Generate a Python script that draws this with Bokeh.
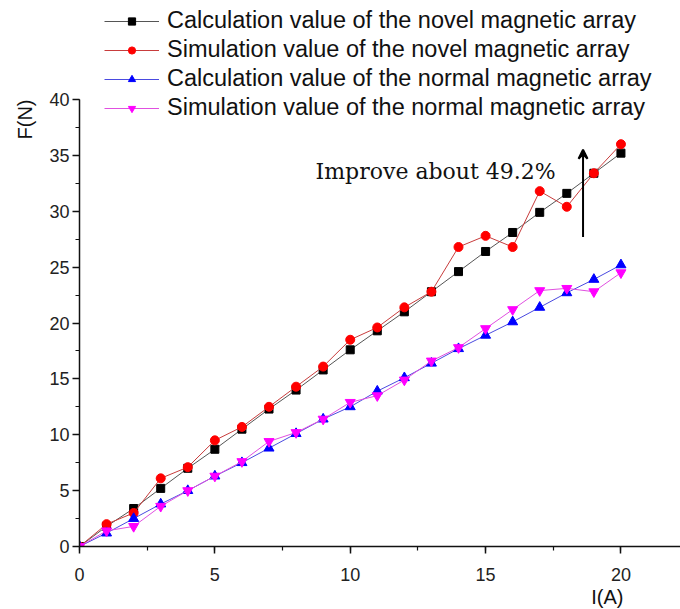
import math
from bokeh.plotting import figure
from bokeh.models import (Legend, LegendItem, Label, Arrow, VeeHead, Title,
                          SingleIntervalTicker, Range1d)
from bokeh.embed import file_html
from bokeh.resources import INLINE

# ---- data ----
current = [0, 1, 2, 3, 4, 5, 6, 7, 8, 9, 10, 11, 12, 13, 14, 15, 16, 17, 18, 19, 20]
calc_novel = [0, 1.8, 3.4, 5.2, 7.0, 8.7, 10.5, 12.3, 14.0, 15.8, 17.6, 19.3, 21.0,
              22.8, 24.6, 26.4, 28.1, 29.9, 31.6, 33.4, 35.2]
sim_novel = [0, 2.0, 3.0, 6.1, 7.1, 9.5, 10.7, 12.5, 14.3, 16.1, 18.5, 19.6, 21.4,
             22.8, 26.8, 27.8, 26.8, 31.8, 30.4, 33.4, 36.0]
calc_normal = [0, 1.2, 2.5, 3.8, 5.0, 6.3, 7.5, 8.8, 10.1, 11.4, 12.5, 13.9, 15.1,
               16.4, 17.7, 18.9, 20.1, 21.4, 22.7, 23.9, 25.2]
sim_normal = [0, 1.4, 1.8, 3.6, 5.0, 6.3, 7.6, 9.4, 10.2, 11.4, 12.9, 13.5, 14.9,
              16.6, 17.8, 19.5, 21.2, 22.9, 23.1, 22.8, 24.5]
series_names = ["Calculation value of the novel magnetic array",
                "Simulation value of the novel magnetic array",
                "Calculation value of the normal magnetic array",
                "Simulation value of the normal magnetic array"]
annotation_text = "Improve about 49.2%"
x_label = "I(A)"
y_label = "F(N)"
y_axis_max = 40

W, H = 680, 609
LEFT, BOTTOM = 79, 63
AXIS_TOP = 99          # canvas px of y = 40
FB = H - BOTTOM        # frame bottom in canvas px
px_per_unit = (FB - AXIS_TOP) / y_axis_max
y_end = y_axis_max + AXIS_TOP / px_per_unit

p = figure(width=W, height=H, output_backend="svg", toolbar_location=None,
           x_range=Range1d(0, 22.2), y_range=Range1d(0, y_end),
           min_border_left=LEFT, min_border_right=0, min_border_top=0,
           min_border_bottom=BOTTOM)
p.outline_line_color = None
p.xgrid.visible = False
p.ygrid.visible = False
p.background_fill_color = "white"
p.border_fill_color = "white"

for ax in (p.xaxis[0], p.yaxis[0]):
    ax.ticker = SingleIntervalTicker(interval=5, num_minor_ticks=2)
    ax.axis_line_width = 1.5
    ax.axis_line_color = "#111111"
    ax.major_tick_line_color = "#111111"
    ax.minor_tick_line_color = "#111111"
    ax.major_tick_line_width = 1.5
    ax.minor_tick_line_width = 1.2
    ax.major_tick_out = 7
    ax.major_tick_in = 0
    ax.minor_tick_out = 4
    ax.minor_tick_in = 0
    ax.major_label_text_font = "Liberation Sans"
    ax.major_label_text_font_size = "18px"
    ax.major_label_text_color = "#222222"
p.yaxis[0].bounds = (0, y_axis_max)
p.yaxis[0].major_label_standoff = 3
p.xaxis[0].major_label_standoff = 14

specs = [
    (calc_novel, "#000000", "#555555", "square", 8),
    (sim_novel, "#ff0000", "#c83c3c", "circle", 9),
    (calc_normal, "#0000ff", "#4a4ae0", "triangle", 10),
    (sim_normal, "#ff00ff", "#e050e0", "inverted_triangle", 10),
]
items = []
for (vals, mcol, lcol, marker, sz), name in zip(specs, series_names):
    ln = p.line(current, vals, line_color=lcol, line_width=1)
    sc = p.scatter(current, vals, marker=marker, size=sz, fill_color=mcol,
                   line_color=mcol)
    items.append(LegendItem(label=name, renderers=[ln, sc]))

ROW = 29
legend = Legend(items=items, location=(104 - LEFT, FB - (6 + 4 * ROW)),
                glyph_width=55, glyph_height=18, label_height=ROW, spacing=0,
                padding=0, margin=0, label_standoff=8, border_line_color=None,
                background_fill_alpha=0,
                label_text_font="Liberation Sans", label_text_font_size="23.5px",
                label_text_color="#111111")
p.add_layout(legend, "center")

p.add_layout(Arrow(end=VeeHead(size=9, line_color="black", line_width=2),
                   x_start=18.6, y_start=27.7, x_end=18.6, y_end=35.5,
                   line_color="black", line_width=2))
p.add_layout(Label(x=8.72, y=33.6, text=annotation_text, text_font="DejaVu Serif",
                   text_font_size="22px", text_color="#111111",
                   text_baseline="alphabetic"))

p.add_layout(Title(text=x_label, align="right", offset=57, standoff=0,
                   text_font="Liberation Sans", text_font_size="20px",
                   text_font_style="normal", text_color="#111111"), "below")
p.add_layout(Title(text=y_label, align="right", offset=AXIS_TOP, standoff=22,
                   text_font="Liberation Sans", text_font_size="20px",
                   text_font_style="normal", text_color="#111111"), "left")

open("out.html", "w").write(file_html(p, INLINE))
